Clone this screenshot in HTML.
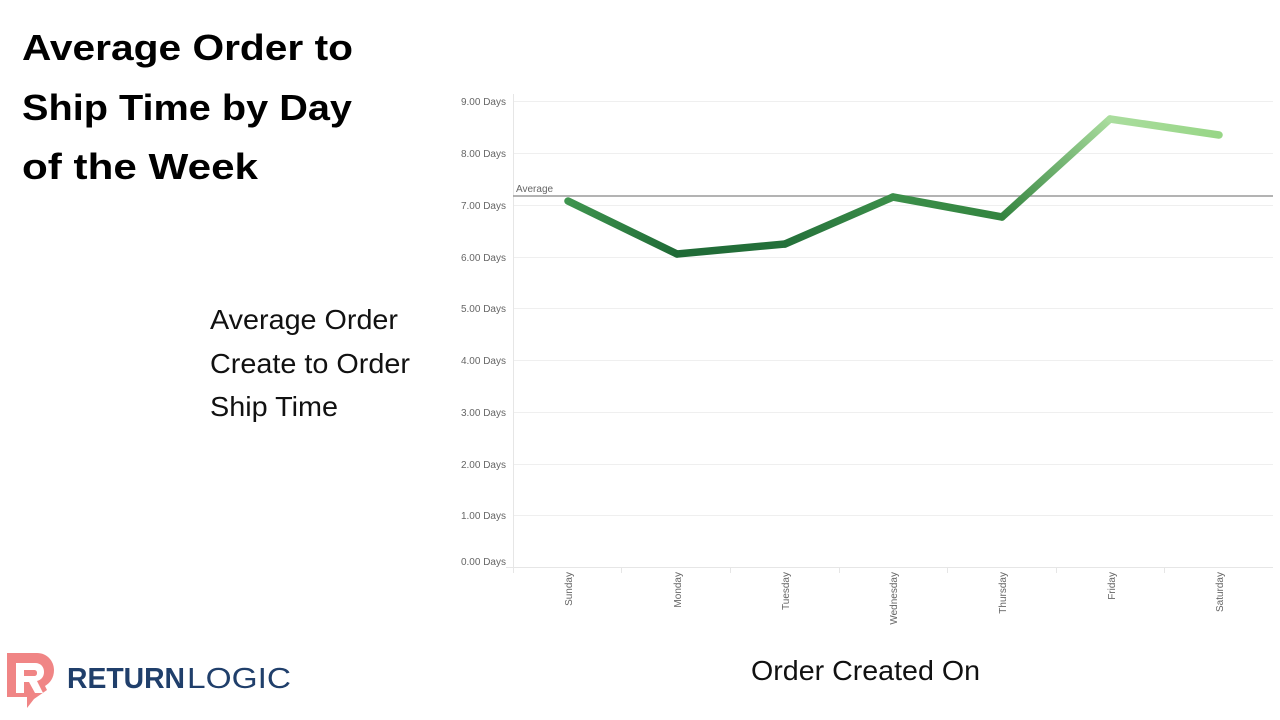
<!DOCTYPE html>
<html>
<head>
<meta charset="utf-8">
<style>
  html,body{margin:0;padding:0;background:#fff;}
  svg{display:block;}
  text{font-family:"Liberation Sans", sans-serif;}
</style>
</head>
<body>
<svg width="1280" height="720" viewBox="0 0 1280 720" xmlns="http://www.w3.org/2000/svg">
  <rect x="0" y="0" width="1280" height="720" fill="#ffffff"/>

  <!-- Title -->
  <g font-weight="bold" font-size="36" fill="#000">
    <text x="22" y="60" textLength="331" lengthAdjust="spacingAndGlyphs">Average Order to</text>
    <text x="22" y="120" textLength="330" lengthAdjust="spacingAndGlyphs">Ship Time by Day</text>
    <text x="22" y="179" textLength="236" lengthAdjust="spacingAndGlyphs">of the Week</text>
  </g>

  <!-- Y axis title -->
  <g font-size="28" fill="#111">
    <text x="210" y="329" textLength="188" lengthAdjust="spacingAndGlyphs">Average Order</text>
    <text x="210" y="373" textLength="200" lengthAdjust="spacingAndGlyphs">Create to Order</text>
    <text x="210" y="416" textLength="128" lengthAdjust="spacingAndGlyphs">Ship Time</text>
  </g>

  <!-- X axis title -->
  <text x="751" y="680" font-size="28" fill="#111" textLength="229" lengthAdjust="spacingAndGlyphs">Order Created On</text>

  <!-- Gridlines -->
  <g stroke="#efefef" stroke-width="1">
    <line x1="513" y1="101.5" x2="1273" y2="101.5"/>
    <line x1="513" y1="153.5" x2="1273" y2="153.5"/>
    <line x1="513" y1="205.5" x2="1273" y2="205.5"/>
    <line x1="513" y1="257.5" x2="1273" y2="257.5"/>
    <line x1="513" y1="308.5" x2="1273" y2="308.5"/>
    <line x1="513" y1="360.5" x2="1273" y2="360.5"/>
    <line x1="513" y1="412.5" x2="1273" y2="412.5"/>
    <line x1="513" y1="464.5" x2="1273" y2="464.5"/>
    <line x1="513" y1="515.5" x2="1273" y2="515.5"/>
  </g>
  <!-- Axes -->
  <g stroke="#e6e6e6" stroke-width="1">
    <line x1="513.5" y1="94" x2="513.5" y2="568"/>
    <line x1="506" y1="567.5" x2="1273" y2="567.5"/>
    <line x1="513.5" y1="567" x2="513.5" y2="573"/>
    <line x1="621.5" y1="567" x2="621.5" y2="573"/>
    <line x1="730.5" y1="567" x2="730.5" y2="573"/>
    <line x1="839.5" y1="567" x2="839.5" y2="573"/>
    <line x1="947.5" y1="567" x2="947.5" y2="573"/>
    <line x1="1056.5" y1="567" x2="1056.5" y2="573"/>
    <line x1="1164.5" y1="567" x2="1164.5" y2="573"/>
  </g>

  <!-- Y tick labels -->
  <g font-size="10" fill="#666" text-anchor="end">
    <text x="506" y="105">9.00 Days</text>
    <text x="506" y="157">8.00 Days</text>
    <text x="506" y="209">7.00 Days</text>
    <text x="506" y="261">6.00 Days</text>
    <text x="506" y="312">5.00 Days</text>
    <text x="506" y="364">4.00 Days</text>
    <text x="506" y="416">3.00 Days</text>
    <text x="506" y="468">2.00 Days</text>
    <text x="506" y="519">1.00 Days</text>
    <text x="506" y="565">0.00 Days</text>
  </g>

  <!-- X tick labels -->
  <g font-size="10" fill="#666" text-anchor="end">
    <text transform="translate(572,572) rotate(-90)">Sunday</text>
    <text transform="translate(681,572) rotate(-90)">Monday</text>
    <text transform="translate(789,572) rotate(-90)">Tuesday</text>
    <text transform="translate(897,572) rotate(-90)">Wednesday</text>
    <text transform="translate(1006,572) rotate(-90)">Thursday</text>
    <text transform="translate(1115,572) rotate(-90)">Friday</text>
    <text transform="translate(1223,572) rotate(-90)">Saturday</text>
  </g>

  <!-- Average reference line -->
  <line x1="513" y1="196" x2="1273" y2="196" stroke="#9a9a9a" stroke-width="1.5"/>
  <text x="516" y="192" font-size="10" fill="#666">Average</text>

  <!-- Line series -->
  <defs>
    <linearGradient id="g1" gradientUnits="userSpaceOnUse" x1="568" y1="201" x2="677" y2="254">
      <stop offset="0" stop-color="#3f954f"/><stop offset="1" stop-color="#1f6a36"/>
    </linearGradient>
    <linearGradient id="g2" gradientUnits="userSpaceOnUse" x1="677" y1="254" x2="785" y2="244">
      <stop offset="0" stop-color="#1f6a36"/><stop offset="1" stop-color="#24703a"/>
    </linearGradient>
    <linearGradient id="g3" gradientUnits="userSpaceOnUse" x1="785" y1="244" x2="893" y2="197">
      <stop offset="0" stop-color="#24703a"/><stop offset="1" stop-color="#3c8f4a"/>
    </linearGradient>
    <linearGradient id="g4" gradientUnits="userSpaceOnUse" x1="893" y1="197" x2="1002" y2="217">
      <stop offset="0" stop-color="#3c8f4a"/><stop offset="1" stop-color="#33843f"/>
    </linearGradient>
    <linearGradient id="g5" gradientUnits="userSpaceOnUse" x1="1002" y1="217" x2="1110" y2="119">
      <stop offset="0" stop-color="#33843f"/><stop offset="1" stop-color="#aadd9e"/>
    </linearGradient>
    <linearGradient id="g6" gradientUnits="userSpaceOnUse" x1="1110" y1="119" x2="1219" y2="135">
      <stop offset="0" stop-color="#aadd9e"/><stop offset="1" stop-color="#98d687"/>
    </linearGradient>
  </defs>
  <g fill="none" stroke-width="7.5" stroke-linecap="round" stroke-linejoin="round">
    <line x1="568" y1="201" x2="677" y2="254" stroke="url(#g1)"/>
    <line x1="677" y1="254" x2="785" y2="244" stroke="url(#g2)"/>
    <line x1="785" y1="244" x2="893" y2="197" stroke="url(#g3)"/>
    <line x1="893" y1="197" x2="1002" y2="217" stroke="url(#g4)"/>
    <line x1="1002" y1="217" x2="1110" y2="119" stroke="url(#g5)"/>
    <line x1="1110" y1="119" x2="1219" y2="135" stroke="url(#g6)"/>
  </g>

  <!-- Logo -->
  <g>
    <path d="M7,653 H37 C47,653 54,661 54,670 C54,678 50,683 45,686 L47,690 L34,699 L27,708 L27,697 H7 Z" fill="#f08585"/>
    <path d="M16,663 H35 C41,663 44,667 44,672 C44,677 41,680 37,681 L43,693 L35,693 L29,682 L24,682 L24,693 L16,693 Z M24,670 V676 H34 C36,676 37,675 37,673 C37,671 36,670 34,670 Z" fill="#ffffff"/>
    <text x="67" y="688" font-size="29" font-weight="bold" fill="#203f6b" textLength="118" lengthAdjust="spacingAndGlyphs">RETURN</text>
    <text x="187" y="688" font-size="29" fill="#203f6b" textLength="104" lengthAdjust="spacingAndGlyphs">LOGIC</text>
  </g>
</svg>
</body>
</html>
